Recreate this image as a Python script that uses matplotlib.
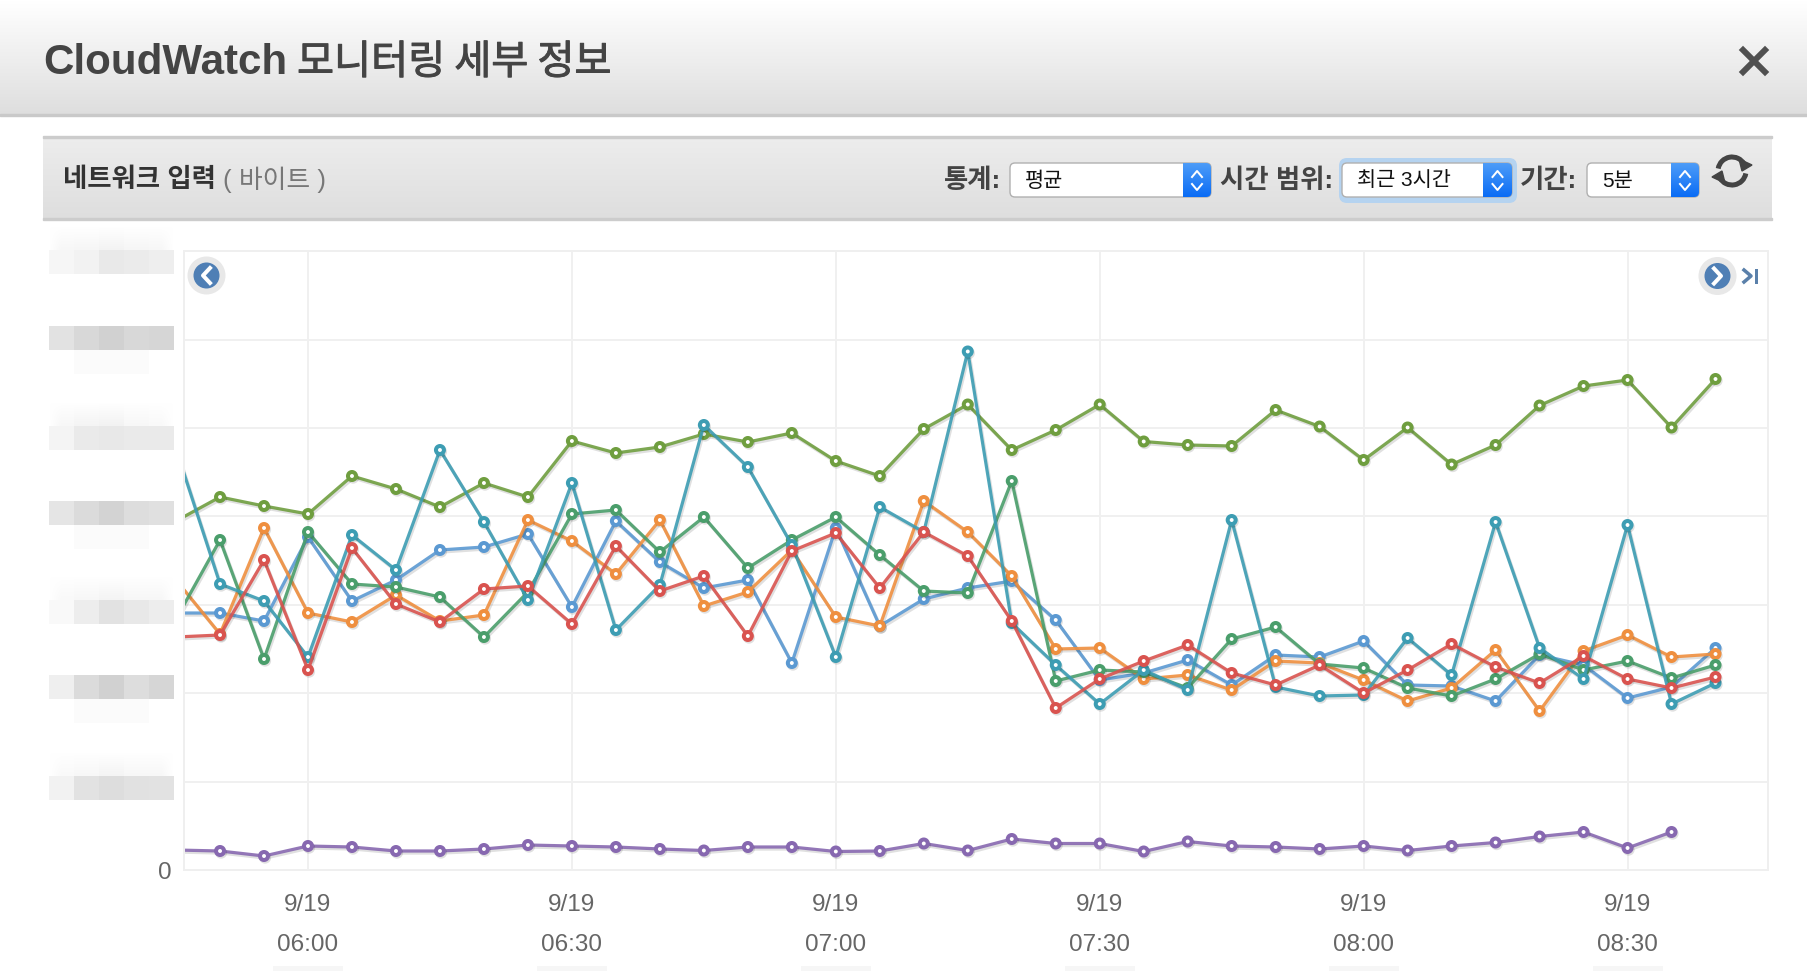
# -*- coding: utf-8 -*-
import numpy as np
import pandas as pd
import matplotlib
matplotlib.use('Agg')
import matplotlib.pyplot as plt
import matplotlib.dates as mdates
import matplotlib.patheffects as pe
from matplotlib.patches import FancyBboxPatch, Rectangle, Circle, Arc, Polygon

W, H = 1807, 971
plt.rcParams['font.family'] = ['Liberation Sans', 'Noto Sans CJK KR', 'DejaVu Sans']

times = pd.date_range('2016-09-19 05:45', periods=36, freq='5min')
olive = [349, 373, 364, 356, 394, 381, 363, 387, 373, 429, 417, 423, 436, 428, 437, 409, 394, 441,
         465.5, 420, 440, 465.5, 428.5, 425, 424, 460, 443.5, 410, 442.5, 405.5, 425, 464.5, 484, 490, 442.5, 491]
teal = [421, 286, 269, 213, 335, 300, 420, 348, 270, 387, 240, 285, 445, 403, 325, 213, 363, 338,
        518.5, 247, 205, 166, 200, 180, 350, 183, 174, 175, 232, 195, 348, 222, 191, 345, 166, 187]
blue = [257, 257, 249, 333, 269, 290, 320, 323, 336, 263, 349, 308, 282, 290, 207, 342, 244, 271,
        282, 289, 250, 190, 197, 210, 185, 215, 213, 229, 185, 184, 169, 215, 205, 172, 183, 222]
orange = [290, 236, 342, 257, 248, 275, 249, 255, 350, 329, 296, 350, 264, 278, 320, 253, 244, 369,
          338, 294, 221, 222, 191, 195, 180, 209, 207, 190, 169, 182, 220, 159, 219, 235, 213, 216]
green = [251, 330, 211, 338, 286, 283, 273, 233, 278, 356, 360, 318, 353, 302, 330, 353, 315, 279,
         277, 389, 189, 200, 198, 182, 231, 243, 206, 202, 182, 174, 191, 216, 200, 209, 192, 205]
red = [233, 235, 310, 200, 322, 266, 248, 281, 284, 246, 324, 279, 294, 234, 319, 337, 282, 338,
       314, 249, 162, 191, 209, 225, 197, 185, 205, 177, 200, 226, 203, 187, 214, 191, 182, 193]
# purple stops one point earlier than the others
purple = [20, 19, 14, 24, 23, 19, 19, 21, 25, 24, 23, 21, 19.5, 23, 23, 18.5, 19, 26.5,
          19.5, 31, 26.5, 26.5, 18.5, 28.5, 24, 23, 21, 24, 19.5, 24, 27.5, 33.5, 38, 22, 38]

series = [(olive, '#6f9e3f'), (blue, '#5b99d2'), (orange, '#ef8f3f'), (green, '#4a9e6b'),
          (teal, '#3d9db3'), (red, '#d9534f'), (purple, '#8768b0')]

tick_times = pd.date_range('2016-09-19 06:00', periods=6, freq='30min')
grid_step = 88.4

px = 1 / (100 / 72)  # one pixel in points

fig = plt.figure(figsize=(W / 100, H / 100), dpi=100, facecolor='white')

# chart
ax = fig.add_axes([184.4 / W, 1 - 870 / H, (1768 - 184.4) / W, (870 - 251) / H], facecolor='none')
for vals, col in series:
    t = times[:len(vals)]
    ax.plot(t, vals, color=col, lw=3.2 * px, alpha=0.9, solid_joinstyle='round',
            path_effects=[pe.SimpleLineShadow(offset=(1, -1.5), alpha=0.12, shadow_color='k'), pe.Normal()])
    ax.plot(t[1:], vals[1:], ls='none', marker='o', ms=8 * px, mew=4 * px, mec=col, mfc='white',
            path_effects=[pe.SimpleLineShadow(offset=(0.8, -1.2), alpha=0.12, shadow_color='k'), pe.Normal()])

ax.set_xlim(pd.Timestamp('2016-09-19 05:45:57'), pd.Timestamp('2016-09-19 08:45:58'))
ax.set_ylim(0, 619)
ax.set_xticks(tick_times)
ax.xaxis.set_major_formatter(mdates.DateFormatter('%-m/%-d\n%H:%M'))
ax.set_yticks(np.arange(8) * grid_step)
ax.set_yticklabels(['0'] + [''] * 7)
ax.grid(True, color='#f0f0f0', lw=2 * px)
ax.set_axisbelow(True)
for s in ax.spines.values():
    s.set_color('#efefef')
    s.set_linewidth(2 * px)
ax.tick_params(axis='both', length=0, labelsize=17.5, labelcolor='#666666')
ax.tick_params(axis='x', pad=17)
ax.tick_params(axis='y', pad=9)
for lab in ax.get_xticklabels():
    lab.set_linespacing(2.09)

# everything around the chart, drawn in pixel coordinates
ui = fig.add_axes([0, 0, 1, 1], facecolor='none', zorder=5)
ui.axis('off')


def gradient(x0, x1, y0, y1, top, bottom):
    c0 = np.array(matplotlib.colors.to_rgb(top))
    c1 = np.array(matplotlib.colors.to_rgb(bottom))
    g = np.linspace(0, 1, 64)[:, None, None] * (c1 - c0) + c0
    ui.imshow(g, extent=(x0, x1, y1, y0), aspect='auto', interpolation='bilinear', zorder=1)


# header
gradient(0, W, 0, 115, '#ffffff', '#dedede')
ui.add_patch(Rectangle((0, 114), W, 2.5, color='#c9c9c9', zorder=2))
ui.text(43, 62.5, 'CloudWatch', fontsize=30.3, fontweight='bold', color='#444444', va='center', zorder=3)
ui.text(297, 62.5, '모니터링 세부 정보', fontsize=29, color='#444444', va='center', zorder=3,
        family=['Noto Sans CJK KR'],
        path_effects=[pe.withStroke(linewidth=0.7, foreground='#444444')])
ui.plot([1743, 1765], [50, 72], color='#505050', lw=6 * px, zorder=3)
ui.plot([1743, 1765], [72, 50], color='#505050', lw=6 * px, zorder=3)

# toolbar
gradient(43, 1772, 136, 219, '#ededed', '#dedede')
ui.add_patch(Rectangle((43, 136), 1729, 2, color='#cccccc', zorder=2))
ui.add_patch(Rectangle((43, 218), 1729, 2, color='#cccccc', zorder=2))
ui.text(63, 180, '네트워크 입력', fontsize=19, fontweight='bold', color='#333333', va='center', zorder=3)
ui.text(223, 180, '( 바이트 )', fontsize=18.6, color='#777777', va='center', zorder=3)


def select(x0, x1, btn, text, glow=False):
    y0, y1 = 163, 197
    if glow:
        ui.add_patch(FancyBboxPatch((x0 - 3, y0 - 5), x1 - x0 + 8, y1 - y0 + 11, boxstyle='round,pad=0,rounding_size=8',
                                    fc='#b5d3f0', ec='none', zorder=2))
    box = FancyBboxPatch((x0, y0), x1 - x0, y1 - y0, boxstyle='round,pad=0,rounding_size=5',
                         fc='white', ec='#b0b0b0', lw=1, zorder=2.1)
    ui.add_patch(box)
    clip = FancyBboxPatch((x0, y0), x1 - x0, y1 - y0, boxstyle='round,pad=0,rounding_size=5',
                          fc='none', ec='none', transform=ui.transData)
    ui.add_patch(clip)
    c0 = np.array(matplotlib.colors.to_rgb('#4d9cf8'))
    c1 = np.array(matplotlib.colors.to_rgb('#0a6cf5'))
    g = np.linspace(0, 1, 32)[:, None, None] * (c1 - c0) + c0
    im = ui.imshow(g, extent=(btn, x1, y1, y0), aspect='auto', zorder=2.2)
    im.set_clip_path(clip)
    mid = (btn + x1) / 2
    ui.plot([mid - 5, mid, mid + 5], [177, 171, 177], color='white', lw=2 * px, zorder=2.3)
    ui.plot([mid - 5, mid, mid + 5], [184, 190, 184], color='white', lw=2 * px, zorder=2.3)
    ui.text(x0 + 15, 181, text, fontsize=15, color='#111111', va='center', zorder=3)


ui.text(1001, 181, '통계:', fontsize=19, fontweight='bold', color='#444444', va='center', ha='right', zorder=3)
select(1010, 1211, 1183, '평균')
ui.text(1333, 181, '시간 범위:', fontsize=19, fontweight='bold', color='#444444', va='center', ha='right', zorder=3)
select(1342, 1512, 1483, '최근 3시간', glow=True)
ui.text(1577, 181, '기간:', fontsize=19, fontweight='bold', color='#444444', va='center', ha='right', zorder=3)
select(1587, 1699, 1671, '5분')

# refresh icon
ui.add_patch(Arc((1732, 171), 28, 28, theta1=190, theta2=330, color='#444444', lw=5 * px, zorder=3))
ui.add_patch(Arc((1732, 171), 28, 28, theta1=10, theta2=150, color='#444444', lw=5 * px, zorder=3))
ui.add_patch(Polygon([[1739, 159], [1752, 165], [1742, 171]], color='#444444', zorder=3))
ui.add_patch(Polygon([[1725, 183], [1712, 177], [1722, 171]], color='#444444', zorder=3))


# pixelated y labels, two rows of 24 px: soft ones fade in at the top, hard ones fade out below
def blur(y0, upper, lower, soft):
    rows = np.repeat(np.array([upper, lower], dtype=float), 25, axis=1)
    rows = np.repeat(rows, 24, axis=0)
    alpha = np.ones(rows.shape)
    if soft:
        alpha[:24] = np.linspace(0, 1, 24)[:, None]
        alpha[:24] *= np.clip(np.minimum(np.arange(125), np.arange(125)[::-1]) / 12, 0, 1)
    rgba = np.dstack([rows, rows, rows, alpha])
    ui.imshow(rgba, extent=(49, 174, y0 + 48, y0), aspect='auto', interpolation='nearest', zorder=1)


faint = [1, 0.985, 0.985, 0.985, 1]
blur(226, [0.97, 0.965, 0.955, 0.965, 0.97], [0.965, 0.95, 0.915, 0.925, 0.935], True)
blur(326, [0.89, 0.85, 0.82, 0.85, 0.84], faint, False)
blur(402, [0.97, 0.96, 0.95, 0.97, 0.98], [0.96, 0.92, 0.91, 0.92, 0.92], True)
blur(501, [0.90, 0.86, 0.83, 0.87, 0.88], faint, False)
blur(576, [0.98, 0.97, 0.96, 0.97, 0.97], [0.98, 0.93, 0.89, 0.91, 0.93], True)
blur(675, [0.94, 0.86, 0.82, 0.87, 0.84], faint, False)
blur(752, [0.98, 0.97, 0.96, 0.97, 0.97], [0.95, 0.89, 0.87, 0.885, 0.89], True)

# blurred remains under the tick labels
for tx in [308, 572, 836, 1100, 1364, 1628]:
    ui.add_patch(Rectangle((tx - 35, 966), 70, 5, fc='#f6f6f6', ec='none', zorder=1))

# chart scroll buttons
ui.add_patch(Circle((206.5, 275.5), 19, fc='#e8e8e8', ec='none', zorder=3))
ui.add_patch(Circle((206.5, 275.5), 13, fc='#4f7fb5', ec='none', zorder=3.1))
ui.plot([210, 203, 210], [268, 275.5, 283], color='white', lw=4 * px, zorder=3.2)
ui.add_patch(Circle((1717.5, 276), 19, fc='#e8e8e8', ec='none', zorder=3))
ui.add_patch(Circle((1717.5, 276), 13, fc='#4f7fb5', ec='none', zorder=3.1))
ui.plot([1714, 1721, 1714], [268.5, 276, 283.5], color='white', lw=4 * px, zorder=3.2)
ui.plot([1744, 1751, 1744], [270, 276, 282], color='#5a80aa', lw=3.5 * px, zorder=3.2)
ui.plot([1756, 1756], [270, 282], color='#5a80aa', lw=3 * px, zorder=3.2)

ui.set_xlim(0, W)
ui.set_ylim(H, 0)

fig.savefig('out.png', dpi=100)
